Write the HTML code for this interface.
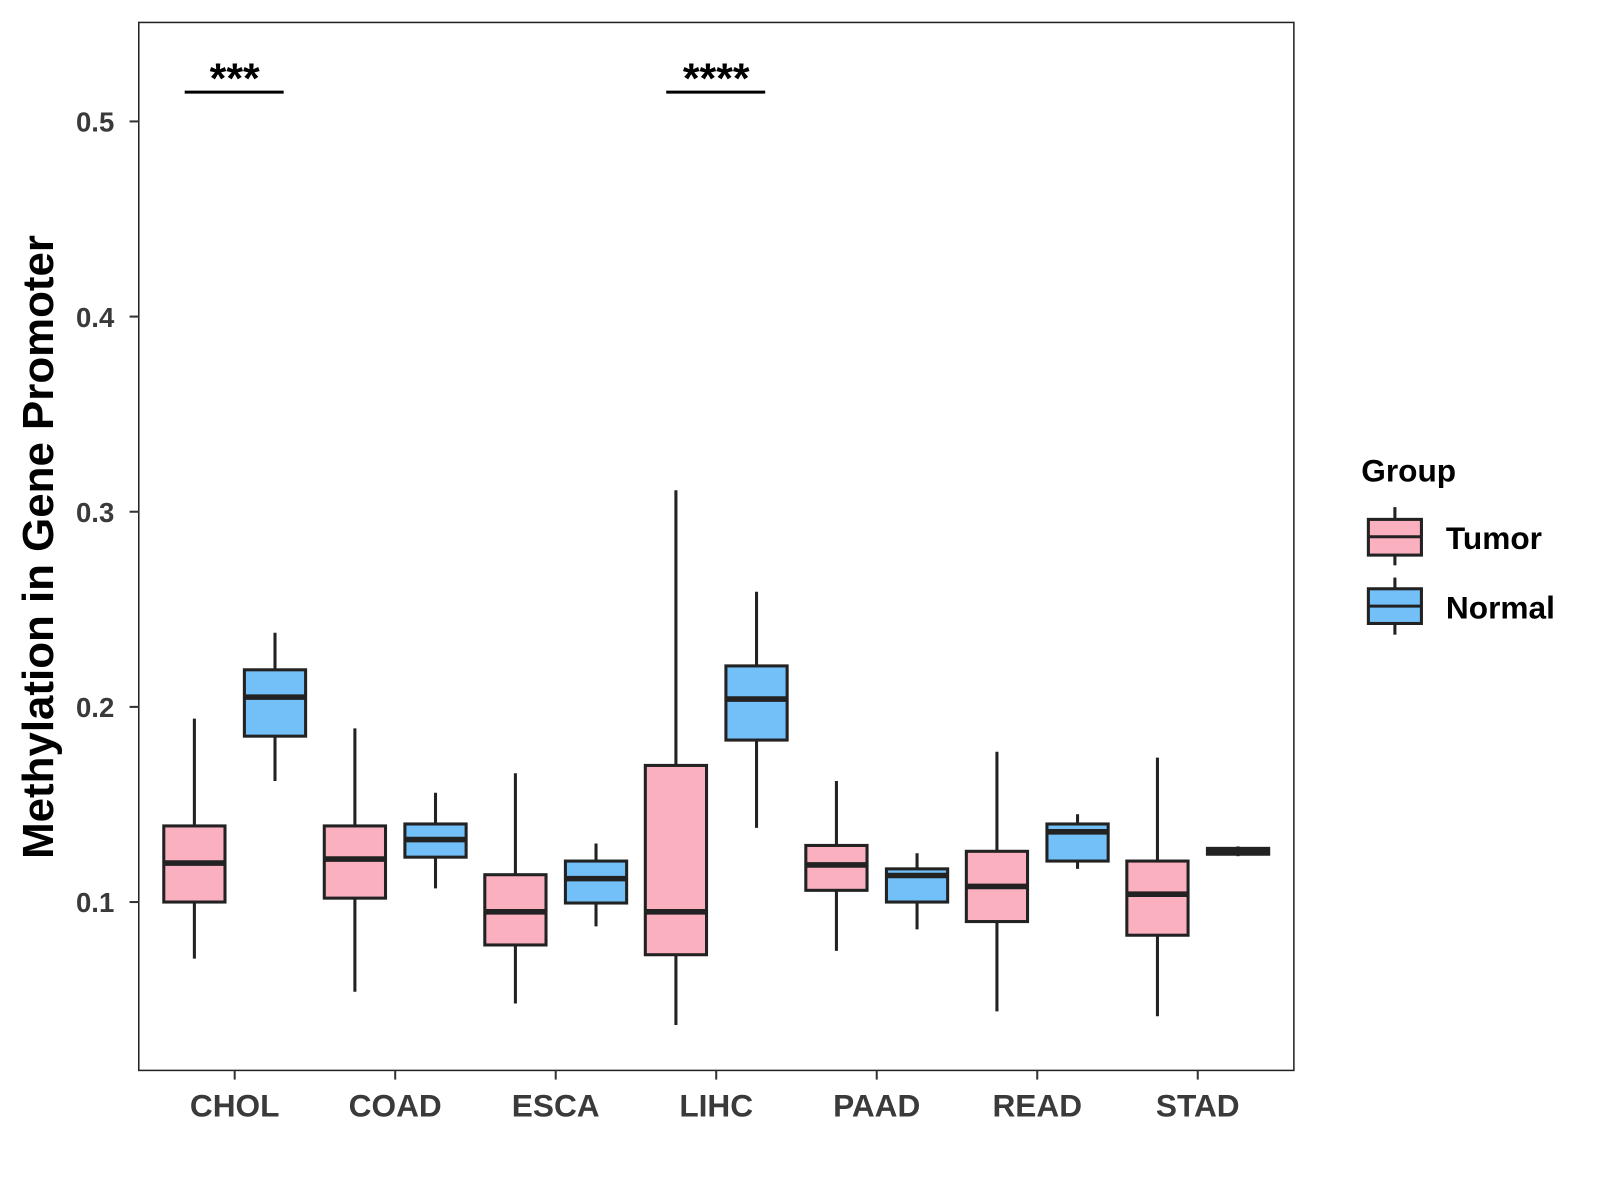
<!DOCTYPE html>
<html><head><meta charset="utf-8"><style>
html,body{margin:0;padding:0;background:#fff;}
svg{display:block;font-family:"Liberation Sans",Arial,sans-serif;font-weight:bold;}
</style></head><body>
<svg id="chart" width="1600" height="1200" viewBox="0 0 1568 1176" xmlns="http://www.w3.org/2000/svg">
<rect x="0" y="0" width="1568" height="1176" fill="#fff"/>
<g id="plot"></g>
<rect x="136" y="22" width="1132" height="1027" fill="none" stroke="#222" stroke-width="1.5"/>
<g id="axes"></g>
<text x="52" y="536" transform="rotate(-90 52 536)" text-anchor="middle" font-size="43" fill="#000">Methylation in Gene Promoter</text>
<g>
<text x="1334" y="472" font-size="31" fill="#000">Group</text>
<g>
<line x1="1367" y1="497" x2="1367" y2="554" stroke="#222" stroke-width="3"/>
<rect x="1341" y="509" width="52" height="35" fill="#FBB0C0" stroke="#222" stroke-width="3"/>
<line x1="1341" y1="526" x2="1393" y2="526" stroke="#222" stroke-width="3"/>
<text x="1417" y="538" font-size="31" fill="#000">Tumor</text>
</g>
<g>
<line x1="1367" y1="566" x2="1367" y2="622" stroke="#222" stroke-width="3"/>
<rect x="1341" y="577" width="52" height="34" fill="#73BFF7" stroke="#222" stroke-width="3"/>
<line x1="1341" y1="594" x2="1393" y2="594" stroke="#222" stroke-width="3"/>
<text x="1417" y="606" font-size="31" fill="#000">Normal</text>
</g>
</g>
</svg>
<script>
const categories = ["CHOL","COAD","ESCA","LIHC","PAAD","READ","STAD"];
// [low whisker, Q1, median, Q3, high whisker]
const tumorStats = [
 [0.071,0.100,0.120,0.139,0.194],
 [0.054,0.102,0.122,0.139,0.189],
 [0.048,0.078,0.095,0.114,0.166],
 [0.037,0.073,0.095,0.170,0.311],
 [0.075,0.106,0.119,0.129,0.162],
 [0.044,0.090,0.108,0.126,0.177],
 [0.0415,0.083,0.104,0.121,0.174]
];
const normalStats = [
 [0.162,0.185,0.205,0.219,0.238],
 [0.107,0.123,0.132,0.140,0.156],
 [0.0875,0.0995,0.112,0.121,0.130],
 [0.138,0.183,0.204,0.221,0.259],
 [0.086,0.100,0.1136,0.117,0.125],
 [0.117,0.121,0.136,0.140,0.145],
 [0.1235,0.1245,0.1265,0.1275,0.1285]
];
const yTicks = [0.1,0.2,0.3,0.4,0.5];
const yTickLabels = ["0.1","0.2","0.3","0.4","0.5"];
const sigCategories = ["CHOL","LIHC"];
const sigLabels = ["***","****"];
const sigLevel = 0.515;

const NS="http://www.w3.org/2000/svg";
function yScale(v){return 884-(v-0.1)*1912.5;}
function xScale(i){return 230+157.3*i;}
function mk(tag,attrs,parent){const e=document.createElementNS(NS,tag);for(const k in attrs)e.setAttribute(k,attrs[k]);parent.appendChild(e);return e;}
const plot=document.getElementById('plot'), axes=document.getElementById('axes');
function drawBox(cx,s,fill,name){
  const g=mk('g',{},plot);
  
  
  const w=60;
  mk('line',{x1:cx,x2:cx,y1:yScale(s[4]),y2:yScale(s[0]),stroke:'#222','stroke-width':3},g);
  mk('rect',{x:cx-w/2,y:yScale(s[3]),width:w,height:Math.max(yScale(s[1])-yScale(s[3]),0.5),fill:fill,stroke:'#222','stroke-width':3},g);
  mk('line',{x1:cx-w/2,x2:cx+w/2,y1:yScale(s[2]),y2:yScale(s[2]),stroke:'#222','stroke-width':5.5},g);
}
categories.forEach((c,i)=>{
  drawBox(xScale(i)-39.5,tumorStats[i],'#FBB0C0','box-tumor-'+c.toLowerCase());
  drawBox(xScale(i)+39.5,normalStats[i],'#73BFF7','box-normal-'+c.toLowerCase());
  const t=mk('line',{x1:xScale(i),x2:xScale(i),y1:1049,y2:1058,stroke:'#333','stroke-width':2},axes);
  
  
  const l=mk('text',{x:xScale(i),y:1094,'text-anchor':'middle','font-size':31,fill:'#3a3a3a'},axes);
  l.textContent=c;
  
  
});
yTicks.forEach((v,i)=>{
  const t=mk('line',{x1:127,x2:136,y1:yScale(v),y2:yScale(v),stroke:'#333','stroke-width':2},axes);
  
  
  const l=mk('text',{x:112,y:yScale(v)+10,'text-anchor':'end','font-size':27,fill:'#3a3a3a'},axes);
  l.textContent=yTickLabels[i];
  
  
});
sigCategories.forEach((c,j)=>{
  const i=categories.indexOf(c);
  const y=yScale(sigLevel);
  const ln=mk('line',{x1:xScale(i)-49,x2:xScale(i)+48,y1:y,y2:y,stroke:'#000','stroke-width':3},plot);
  
  
  const t=mk('text',{x:xScale(i),y:y+1,'text-anchor':'middle','font-size':42,fill:'#000'},plot);
  t.textContent=sigLabels[j];
  
  
});
</script>
</body></html>
